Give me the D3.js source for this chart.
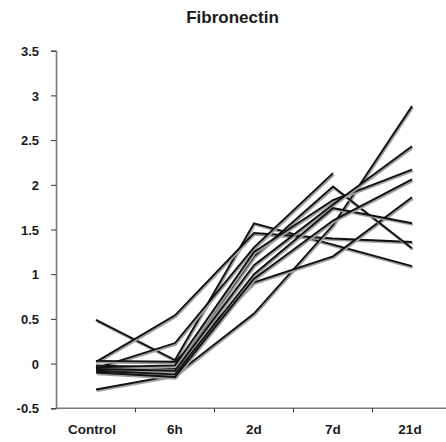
<!DOCTYPE html>
<html>
<head>
<meta charset="utf-8">
<script src="https://cdn.jsdelivr.net/npm/d3@7"></script>
<style>
  body { margin: 0; background: #fff; }
  svg text { font-family: "Liberation Sans", Arial, Helvetica, sans-serif; font-weight: bold; fill: #1a1a1a; }
</style>
</head>
<body>
<div id="chart"></div>
<script>
  // Data
  var categories = ["Control", "6h", "2d", "7d", "21d"];
  var yTicks = [-0.5, 0, 0.5, 1, 1.5, 2, 2.5, 3, 3.5];
  var yTickLabels = ["-0.5", "0", "0.5", "1", "1.5", "2", "2.5", "3", "3.5"];

  var series1 = [0.49, 0.04, 1.57, 1.33, 1.09];
  var series2 = [0.02, 0.54, 1.46, 1.40, 1.36];
  var series3 = [-0.29, -0.13, 0.56, 1.55, 2.88];
  var series4 = [-0.05, 0.23, 1.30, 2.13];
  var series5 = [0.03, 0.02, 0.91, 1.20, 1.86];
  var series6 = [-0.02, -0.05, 1.20, 1.98, 1.29];
  var series7 = [-0.04, -0.02, 1.25, 1.83, 2.17];
  var series8 = [-0.06, -0.08, 1.10, 1.78, 2.43];
  var series9 = [-0.08, -0.12, 1.00, 1.74, 1.57];
  var series10 = [-0.10, -0.15, 0.95, 1.60, 2.06];
  var allSeries = [series1, series2, series3, series4, series5,
                   series6, series7, series8, series9, series10];

  // Layout
  var width = 446, height = 442;

  var svg = d3.select("#chart").append("svg")
    .attr("width", width)
    .attr("height", height);

  var x = d3.scaleBand()
    .domain(categories)
    .range([56.5, 451.5])
    .padding(0);

  var y = d3.scaleLinear()
    .domain([-0.5, 3.5])
    .range([408.3, 50.7]);

  // Title
  svg.append("text")
    .attr("x", 232.5)
    .attr("y", 23)
    .attr("text-anchor", "middle")
    .style("font-size", "17px")
    .text("Fibronectin");

  // Y axis
  var yAxis = d3.axisLeft(y)
    .tickValues(yTicks)
    .tickFormat(function (d, i) { return yTickLabels[i]; })
    .tickSize(5)
    .tickPadding(12);

  var gy = svg.append("g")
    .attr("transform", "translate(56,0)")
    .call(yAxis);
  gy.select(".domain").attr("stroke", "#777").attr("stroke-width", 1.6);
  gy.selectAll(".tick line").attr("stroke", "#333").attr("stroke-width", 1);
  gy.selectAll(".tick text")
    .style("font-size", "13px")
    .attr("fill", "#1a1a1a")
    .attr("dy", "0.36em");

  // X axis line and boundary ticks
  var gx = svg.append("g");
  gx.append("line")
    .attr("x1", 56).attr("x2", width)
    .attr("y1", y(-0.5)).attr("y2", y(-0.5))
    .attr("stroke", "#777").attr("stroke-width", 1.6);

  gx.selectAll(".xtick")
    .data(categories.slice(1))
    .enter()
    .append("line")
    .attr("class", "xtick")
    .attr("x1", function (d) { return x(d); })
    .attr("x2", function (d) { return x(d); })
    .attr("y1", y(-0.5))
    .attr("y2", y(-0.5) + 4)
    .attr("stroke", "#333")
    .attr("stroke-width", 1);

  gx.selectAll(".xlabel")
    .data(categories)
    .enter()
    .append("text")
    .attr("class", "xlabel")
    .attr("x", function (d) { return x(d) + x.bandwidth() / 2; })
    .attr("dx", function (d, i) { return i === 0 ? -4 : (i === 4 ? -2 : 0); })
    .attr("y", 434)
    .attr("text-anchor", "middle")
    .style("font-size", "13.5px")
    .text(function (d) { return d; });

  // Lines
  var line = d3.line()
    .x(function (d, i) { return x(categories[i]) + x.bandwidth() / 2; })
    .y(function (d) { return y(d); });

  var gl = svg.append("g");
  allSeries.forEach(function (s) {
    gl.append("path")
      .attr("d", line(s))
      .attr("transform", "translate(0.8,1.4)")
      .attr("fill", "none")
      .attr("stroke", "#a0a0a0")
      .attr("stroke-width", 2.4)
      .attr("stroke-linejoin", "miter");
    gl.append("path")
      .attr("d", line(s))
      .attr("fill", "none")
      .attr("stroke", "#111")
      .attr("stroke-width", 1.9)
      .attr("stroke-linejoin", "miter");
  });
</script>
</body>
</html>
